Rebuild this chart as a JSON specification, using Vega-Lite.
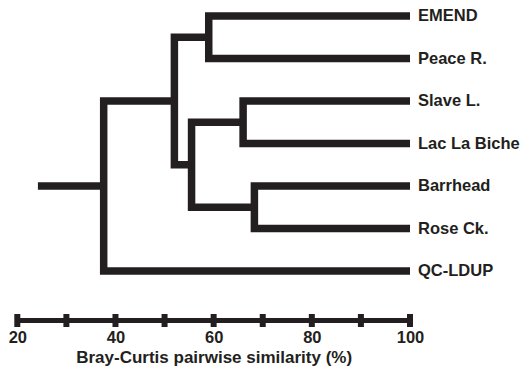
{
  "$schema": "https://vega.github.io/schema/vega-lite/v6.json",
  "width": 526,
  "height": 320,
  "autosize": {"type": "none"},
  "padding": {"left": 0, "top": 0, "right": 0, "bottom": 49},
  "background": "white",
  "config": {"view": {"stroke": null}},
  "datasets": {
    "tree": [
      {"seg": "A", "ord": 1, "sim": 100, "pos": 0},
      {"seg": "A", "ord": 2, "sim": 59, "pos": 0},
      {"seg": "A", "ord": 3, "sim": 59, "pos": 1},
      {"seg": "A", "ord": 4, "sim": 100, "pos": 1},
      {"seg": "B", "ord": 1, "sim": 100, "pos": 2},
      {"seg": "B", "ord": 2, "sim": 66, "pos": 2},
      {"seg": "B", "ord": 3, "sim": 66, "pos": 3},
      {"seg": "B", "ord": 4, "sim": 100, "pos": 3},
      {"seg": "C", "ord": 1, "sim": 100, "pos": 4},
      {"seg": "C", "ord": 2, "sim": 68.3, "pos": 4},
      {"seg": "C", "ord": 3, "sim": 68.3, "pos": 5},
      {"seg": "C", "ord": 4, "sim": 100, "pos": 5},
      {"seg": "D", "ord": 1, "sim": 66, "pos": 2.5},
      {"seg": "D", "ord": 2, "sim": 55.5, "pos": 2.5},
      {"seg": "D", "ord": 3, "sim": 55.5, "pos": 4.5},
      {"seg": "D", "ord": 4, "sim": 68.3, "pos": 4.5},
      {"seg": "E", "ord": 1, "sim": 59, "pos": 0.5},
      {"seg": "E", "ord": 2, "sim": 52, "pos": 0.5},
      {"seg": "E", "ord": 3, "sim": 52, "pos": 3.5},
      {"seg": "E", "ord": 4, "sim": 55.5, "pos": 3.5},
      {"seg": "F", "ord": 1, "sim": 52, "pos": 2},
      {"seg": "F", "ord": 2, "sim": 37.6, "pos": 2},
      {"seg": "F", "ord": 3, "sim": 37.6, "pos": 6},
      {"seg": "F", "ord": 4, "sim": 100, "pos": 6},
      {"seg": "G", "ord": 1, "sim": 37.6, "pos": 4},
      {"seg": "G", "ord": 2, "sim": 24.2, "pos": 4}
    ],
    "leaves": [
      {"name": "EMEND", "idx": 0},
      {"name": "Peace R.", "idx": 1},
      {"name": "Slave L.", "idx": 2},
      {"name": "Lac La Biche", "idx": 3},
      {"name": "Barrhead", "idx": 4},
      {"name": "Rose Ck.", "idx": 5},
      {"name": "QC-LDUP", "idx": 6}
    ],
    "ticks": [
      {"pct": 20}, {"pct": 30}, {"pct": 40}, {"pct": 50}, {"pct": 60},
      {"pct": 70}, {"pct": 80}, {"pct": 90}, {"pct": 100}
    ]
  },
  "layer": [
    {
      "data": {"name": "tree"},
      "mark": {"type": "line", "strokeWidth": 7.5, "color": "#231f20", "strokeJoin": "miter", "strokeCap": "butt"},
      "encoding": {
        "x": {
          "field": "sim", "type": "quantitative",
          "scale": {"domain": [20, 100], "range": [17.3, 410]},
          "axis": {
            "orient": "bottom",
            "values": [20, 40, 60, 80, 100],
            "ticks": false,
            "tickSize": 0,
            "grid": false,
            "domain": true,
            "domainWidth": 5,
            "domainColor": "#231f20",
            "labelFlush": false,
            "labelFont": "Liberation Sans",
            "labelFontWeight": "bold",
            "labelFontSize": 16.5,
            "labelColor": "#231f20",
            "labelPadding": 9,
            "title": "Bray-Curtis pairwise similarity (%)",
            "titleFont": "Liberation Sans",
            "titleFontWeight": "bold",
            "titleFontSize": 17,
            "titleColor": "#231f20",
            "titlePadding": 4
          }
        },
        "y": {
          "field": "pos", "type": "quantitative",
          "scale": {"domain": [0, 6], "range": [16, 271]},
          "axis": null
        },
        "detail": {"field": "seg"},
        "order": {"field": "ord", "type": "quantitative"}
      }
    },
    {
      "data": {"name": "ticks"},
      "mark": {"type": "rule", "strokeWidth": 6, "color": "#231f20", "strokeCap": "butt"},
      "encoding": {
        "x": {"field": "pct", "type": "quantitative"},
        "y": {"datum": 7.012},
        "y2": {"datum": 7.318}
      }
    },
    {
      "data": {"name": "leaves"},
      "mark": {"type": "text", "align": "left", "baseline": "middle", "dx": 8, "font": "Liberation Sans", "fontWeight": "bold", "fontSize": 16.5, "color": "#231f20"},
      "encoding": {
        "x": {"datum": 100},
        "y": {"field": "idx", "type": "quantitative"},
        "text": {"field": "name"}
      }
    }
  ]
}
